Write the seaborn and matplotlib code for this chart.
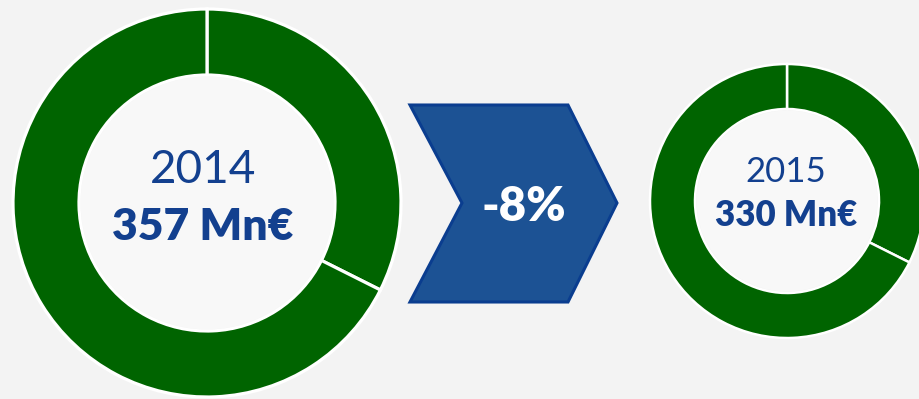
import matplotlib
matplotlib.use("Agg")
import matplotlib.pyplot as plt
from matplotlib.patches import Polygon
import seaborn as sns

# ---- data ----
years = ["2014", "2015"]
totals = [357, 330]
unit = "Mn€"
shares_2014 = [32.4, 67.6]
shares_2015 = [32.4, 67.6]
change_label = "-8%"

sns.set_theme(style="white")
plt.rcParams['font.family'] = ['Lato', 'DejaVu Sans']

W, H = 920, 399
fig = plt.figure(figsize=(W / 100, H / 100), dpi=100)
bg = "#f3f3f3"
fig.patch.set_facecolor(bg)
ax = fig.add_axes([0, 0, 1, 1])
ax.set_facecolor(bg)

green = "#006400"
blue_txt = "#13408f"

# layout (pixel coordinates, y measured from bottom)
donuts = [
    dict(cx=207, cy=H - 203, r=194, ri=128, sep=2.3, dx=-4,
         yr_y=H - 170, yr_fs=33, tot_y=H - 227, tot_fs=32),
    dict(cx=787, cy=H - 201, r=137, ri=92, sep=1.8, dx=-1,
         yr_y=H - 172, yr_fs=25, tot_y=H - 216, tot_fs=25),
]
shares = [shares_2014, shares_2015]

for d, s, yr, tot in zip(donuts, shares, years, totals):
    ax.pie(s, colors=[green, green], startangle=90, counterclock=False,
           center=(d["cx"], d["cy"]), radius=d["r"],
           wedgeprops=dict(width=d["r"] - d["ri"], edgecolor="white",
                           linewidth=d["sep"]))
    # slightly lighter inner disc
    ax.add_patch(plt.Circle((d["cx"], d["cy"]), d["ri"] - 1.5,
                            facecolor="#f8f8f8", edgecolor="none", zorder=1))
    ax.text(d["cx"] + d["dx"], d["yr_y"], yr,
            ha="center", va="center", fontsize=d["yr_fs"],
            fontweight="normal", color=blue_txt, zorder=2)
    ax.text(d["cx"] + d["dx"], d["tot_y"],
            f"{tot} {unit}", ha="center", va="center",
            fontsize=d["tot_fs"], fontweight="heavy", color=blue_txt, zorder=2)

# chevron arrow
chev = [(410, 105), (568, 105), (617, 203), (568, 302), (410, 302), (462, 203)]
chev = [(x, H - y) for x, y in chev]
ax.add_patch(Polygon(chev, closed=True, facecolor="#1c5294",
                     edgecolor="#0a3d8f", linewidth=2.2, zorder=3))
ax.text(524, H - 207, change_label, ha="center", va="center",
        fontsize=34, fontweight="heavy", color="white", zorder=4)

ax.set_xlim(0, W)
ax.set_ylim(0, H)
ax.set_aspect("auto")
ax.axis("off")

fig.savefig("out.png", dpi=100, facecolor=bg)
